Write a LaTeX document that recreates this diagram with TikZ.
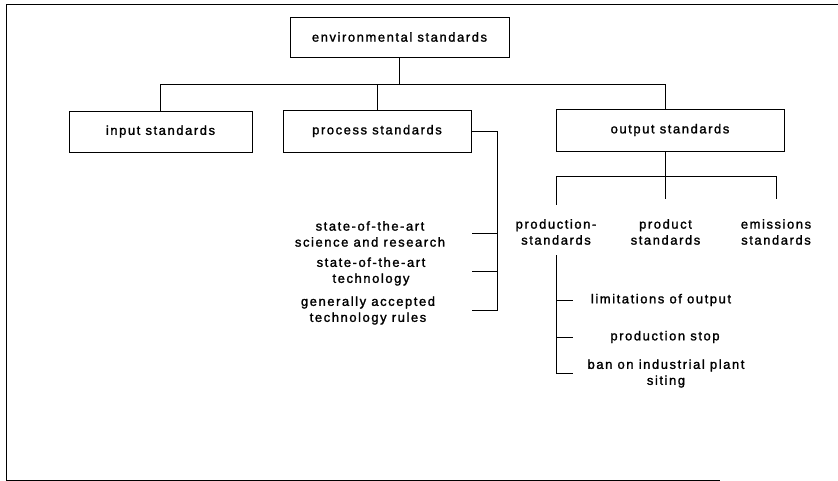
\documentclass[tikz,border=0pt]{standalone}
\usepackage{fontspec}
\setmainfont{Liberation Sans}[LetterSpace=12,FakeBold=1.5]
\begin{document}
\begin{tikzpicture}[x=1pt,y=-1pt,line width=0.8pt,
  every node/.style={font=\fontsize{13pt}{16pt}\selectfont, inner sep=0pt},
  box/.style={draw, line width=0.8pt, minimum width=#1, minimum height=41pt},
  lbl/.style={align=center},
  conn/.style={draw, line width=0.8pt}]
\useasboundingbox (0,0) rectangle (838,481);
% frame
\draw[line width=1pt] (838,4.5) -- (6.5,4.5) -- (6.5,480) -- (720,480);
% boxes
\node[box=219pt, minimum height=40pt] (env) at (399.5,37) {environmental standards};
\node[box=183pt] (inp) at (160.5,131.5) {input standards};
\node[box=188pt, minimum height=42pt] (pro) at (377,131) {process standards};
\node[box=228pt, minimum height=42pt] (out) at (670,130) {output standards};
% process labels
\node[lbl] (s1) at (370,234) {state-of-the-art\\science and research};
\node[lbl] (s2) at (371,271.5) {state-of-the-art\\technology};
\node[lbl] (s3) at (368,310.5) {generally accepted\\technology rules};
% output children
\node[lbl] (o1) at (556,232) {production-\\standards};
\node[lbl] (o2) at (665.5,232) {product\\standards};
\node[lbl] (o3) at (776,232) {emissions\\standards};
% production children
\node[lbl] (p1) at (661,300) {limitations of output};
\node[lbl] (p2) at (665,337) {production stop};
\node[lbl] (p3) at (666,373.5) {ban on industrial plant\\siting};
% coordinates
\coordinate (top) at (0,84.5);
\coordinate (odrop) at (665,84.5);
\coordinate (pvx) at (497,0);
\coordinate (b1) at (472,233);
\coordinate (b2) at (472,271);
\coordinate (b3) at (472,310);
\coordinate (ojunc) at (665,176);
\coordinate (d1) at (556,205);
\coordinate (d2) at (665,199);
\coordinate (d3) at (776,199);
\coordinate (pv) at (556,255);
\coordinate (pvend) at (573,0);
% connectors
\draw[conn] (env.south) -- (env.south |- top);
\draw[conn] (inp.north) |- (odrop) -- (odrop |- out.north);
\draw[conn] (pro.north) -- (pro.north |- top);
\draw[conn] (pro.east) -| (pvx |- b3) -- (b3);
\draw[conn] (b1) -- (pvx |- b1);
\draw[conn] (b2) -- (pvx |- b2);
\draw[conn] (ojunc |- out.south) -- (ojunc);
\draw[conn] (d1) |- (d3 |- ojunc) -- (d3);
\draw[conn] (d2) -- (ojunc);
\draw[conn] (pv) |- (pvend |- p3.west);
\draw[conn] (pv |- p1.west) -- (pvend |- p1.west);
\draw[conn] (pv |- p2.west) -- (pvend |- p2.west);
\end{tikzpicture}
\end{document}
